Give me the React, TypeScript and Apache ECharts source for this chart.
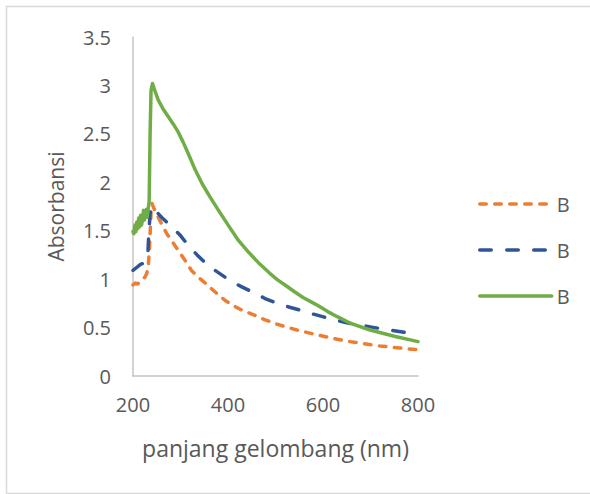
import React, { useEffect, useRef } from "react";
import * as echarts from "echarts";

// ---- data ----
const legendLabels = ["B", "B", "B"];
const seriesKeys = ["B1", "B2", "B3"];
const xTicks = [200, 400, 600, 800];

const orangeX = [200, 205, 210, 215, 220, 225, 229, 232, 235, 238, 240, 245, 255, 271, 285, 295, 310, 323, 340, 352, 370, 394, 410, 429, 450, 478, 500, 520, 545, 570, 601, 630, 657, 690, 720, 760, 800];
const orangeY = [0.94, 0.96, 0.95, 0.98, 0.99, 1.02, 1.06, 1.12, 1.35, 1.70, 1.78, 1.72, 1.62, 1.47, 1.37, 1.30, 1.19, 1.09, 1.01, 0.96, 0.88, 0.78, 0.73, 0.68, 0.64, 0.58, 0.54, 0.51, 0.475, 0.445, 0.41, 0.38, 0.355, 0.33, 0.31, 0.29, 0.27];

const blueX = [200, 205, 210, 215, 220, 225, 229, 231, 233, 236, 239, 245, 260, 275, 288, 300, 316, 335, 352, 370, 394, 410, 429, 450, 478, 503, 530, 552, 575, 601, 625, 650, 685, 720, 760, 800];
const blueY = [1.09, 1.11, 1.13, 1.15, 1.16, 1.18, 1.20, 1.22, 1.45, 1.68, 1.75, 1.72, 1.64, 1.57, 1.51, 1.45, 1.35, 1.25, 1.17, 1.10, 1.02, 0.97, 0.92, 0.87, 0.80, 0.75, 0.71, 0.68, 0.645, 0.61, 0.58, 0.55, 0.52, 0.49, 0.46, 0.43];

const greenX = [200, 202, 204, 206, 208, 210, 212, 214, 216, 218, 220, 222, 224, 226, 228, 230, 232, 234, 236, 238, 241, 245, 253, 263, 274, 285, 295, 305, 316, 330, 345, 362, 380, 400, 422, 443, 464, 488, 505, 520, 540, 558, 575, 590, 610, 629, 660, 699, 750, 800];
const greenY = [1.49, 1.47, 1.56, 1.49, 1.59, 1.52, 1.63, 1.54, 1.66, 1.56, 1.61, 1.71, 1.61, 1.67, 1.72, 1.64, 1.73, 1.80, 2.50, 2.95, 3.02, 2.96, 2.85, 2.76, 2.68, 2.60, 2.52, 2.42, 2.30, 2.14, 1.99, 1.85, 1.71, 1.56, 1.40, 1.28, 1.17, 1.06, 0.99, 0.94, 0.87, 0.81, 0.765, 0.725, 0.665, 0.615, 0.54, 0.475, 0.41, 0.355];

const zip = (xs: number[], ys: number[]) => xs.map((x, i) => [x, ys[i]]);

const FONT = "Open Sans";
const TEXT = "#595959";
const AXIS = "#C4C4C4";

export default function App() {
  const ref = useRef<HTMLDivElement>(null);
  useEffect(() => {
    document.body.style.margin = "0";
    if (!ref.current) return;
    const chart = echarts.init(ref.current, undefined, { renderer: "svg" });
    const lineSeries = (
      name: string,
      data: number[][],
      color: string,
      type: any
    ) => ({
      name,
      type: "line",
      data,
      symbol: "none",
      smooth: false,
      lineStyle: { color, width: 3.5, type, cap: "round", join: "round" },
      itemStyle: { color },
    });
    chart.setOption({
      animation: false,
      backgroundColor: "#ffffff",
      textStyle: { fontFamily: FONT },
      graphic: [
        {
          type: "rect",
          shape: { x: 6.5, y: 6.5, width: 620, height: 487 },
          style: { fill: "none", stroke: "#D9D9D9", lineWidth: 1.5 },
          silent: true,
        },
      ],
      grid: { left: 133, right: 172, top: 37, bottom: 118 },
      xAxis: {
        type: "value",
        min: xTicks[0],
        max: xTicks[xTicks.length - 1],
        interval: 200,
        name: "panjang gelombang (nm)",
        nameLocation: "middle",
        nameGap: 60,
        nameTextStyle: { color: TEXT, fontSize: 23, fontFamily: FONT },
        axisLine: { show: true, onZero: false, lineStyle: { color: AXIS, width: 1.5 } },
        axisTick: { show: false },
        splitLine: { show: false },
        axisLabel: { color: TEXT, fontSize: 20, margin: 18, fontFamily: FONT },
      },
      yAxis: {
        type: "value",
        min: 0,
        max: 3.5,
        interval: 0.5,
        name: "Absorbansi",
        nameLocation: "middle",
        nameGap: 67,
        nameTextStyle: { color: TEXT, fontSize: 21, fontFamily: FONT },
        axisLine: { show: true, lineStyle: { color: AXIS, width: 1.5 } },
        axisTick: { show: false },
        splitLine: { show: false },
        axisLabel: { color: TEXT, fontSize: 20, margin: 22, fontFamily: FONT },
      },
      legend: {
        orient: "vertical",
        left: 473,
        top: 189,
        itemWidth: 72,
        itemHeight: 14,
        itemGap: 26,
        data: seriesKeys,
        itemStyle: { opacity: 0 },
        lineStyle: { width: 3.5, cap: "round" },
        formatter: (name: string) => legendLabels[seriesKeys.indexOf(name)],
        textStyle: { color: TEXT, fontSize: 20, fontFamily: FONT },
      },
      series: [
        lineSeries(seriesKeys[0], zip(orangeX, orangeY), "#ED7D31", [6.5, 8.5]),
        lineSeries(seriesKeys[1], zip(blueX, blueY), "#2F5597", [11.5, 15.5]),
        lineSeries(seriesKeys[2], zip(greenX, greenY), "#70AD47", "solid"),
      ],
    });
    return () => chart.dispose();
  }, []);
  return <div ref={ref} style={{ width: 590, height: 494 }} />;
}
